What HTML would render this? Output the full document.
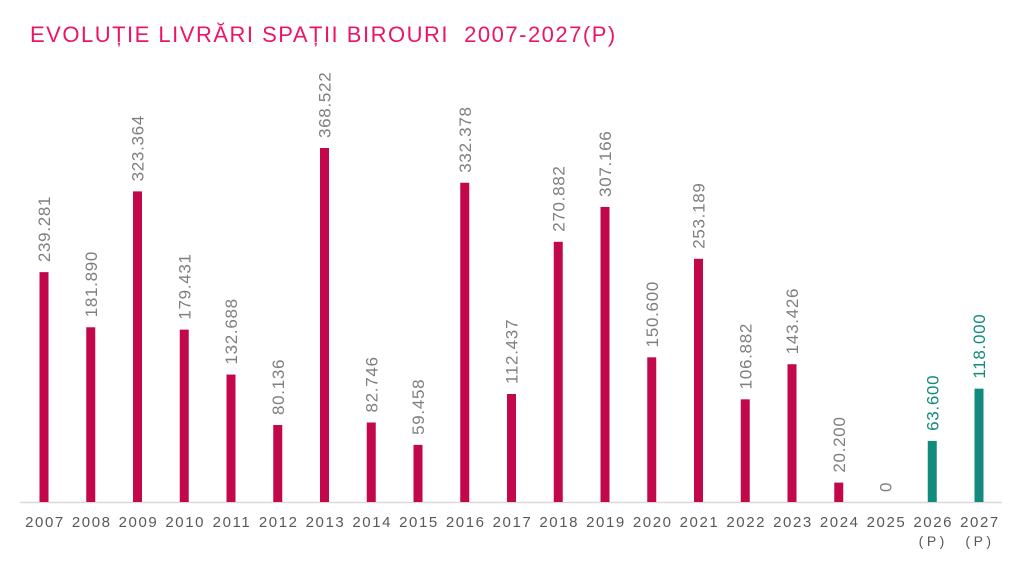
<!DOCTYPE html>
<html><head><meta charset="utf-8"><style>
html,body{margin:0;padding:0;background:#fff;}
svg{display:block;font-family:"Liberation Sans",sans-serif;}
</style></head><body>
<svg width="1024" height="565" viewBox="0 0 1024 565">
<text x="30" y="42" font-size="22" fill="#ec1467" letter-spacing="1.5">EVOLUȚIE LIVRĂRI SPAȚII BIROURI&#160; 2007-2027(P)</text>
<line x1="20" y1="502.5" x2="1002" y2="502.5" stroke="#d9d9d9" stroke-width="1.5"/>
<g id="c"></g>
</svg>
<script>
var d=[["2007",239281,"239.281"],["2008",181890,"181.890"],["2009",323364,"323.364"],["2010",179431,"179.431"],["2011",132688,"132.688"],["2012",80136,"80.136"],["2013",368522,"368.522"],["2014",82746,"82.746"],["2015",59458,"59.458"],["2016",332378,"332.378"],["2017",112437,"112.437"],["2018",270882,"270.882"],["2019",307166,"307.166"],["2020",150600,"150.600"],["2021",253189,"253.189"],["2022",106882,"106.882"],["2023",143426,"143.426"],["2024",20200,"20.200"],["2025",0,"0"],["2026",63600,"63.600"],["2027",118000,"118.000"]];
var s="";
d.forEach(function(r,i){
 var cx=44+i*46.75, h=r[1]*354/368522, top=502-h;
 var p=i>=19, col=p?"#128a7e":"#c2084b", tc=p?"#128a7e":"#7f7f7f";
 if(h>0) s+='<rect x="'+(cx-4.5)+'" y="'+top+'" width="9" height="'+h+'" fill="'+col+'"/>';
 s+='<text transform="translate('+(cx+6)+','+(top-10)+') rotate(-90)" font-size="17" fill="'+tc+'" letter-spacing="0.7">'+r[2]+'</text>';
 s+='<text x="'+(cx+1)+'" y="527" font-size="15" fill="#595959" text-anchor="middle" letter-spacing="1.6">'+r[0]+'</text>';
 if(p) s+='<text x="'+(cx+1)+'" y="546" font-size="14" fill="#595959" text-anchor="middle" letter-spacing="3.5">(P)</text>';
});
document.getElementById("c").innerHTML=s;
</script>
</body></html>
